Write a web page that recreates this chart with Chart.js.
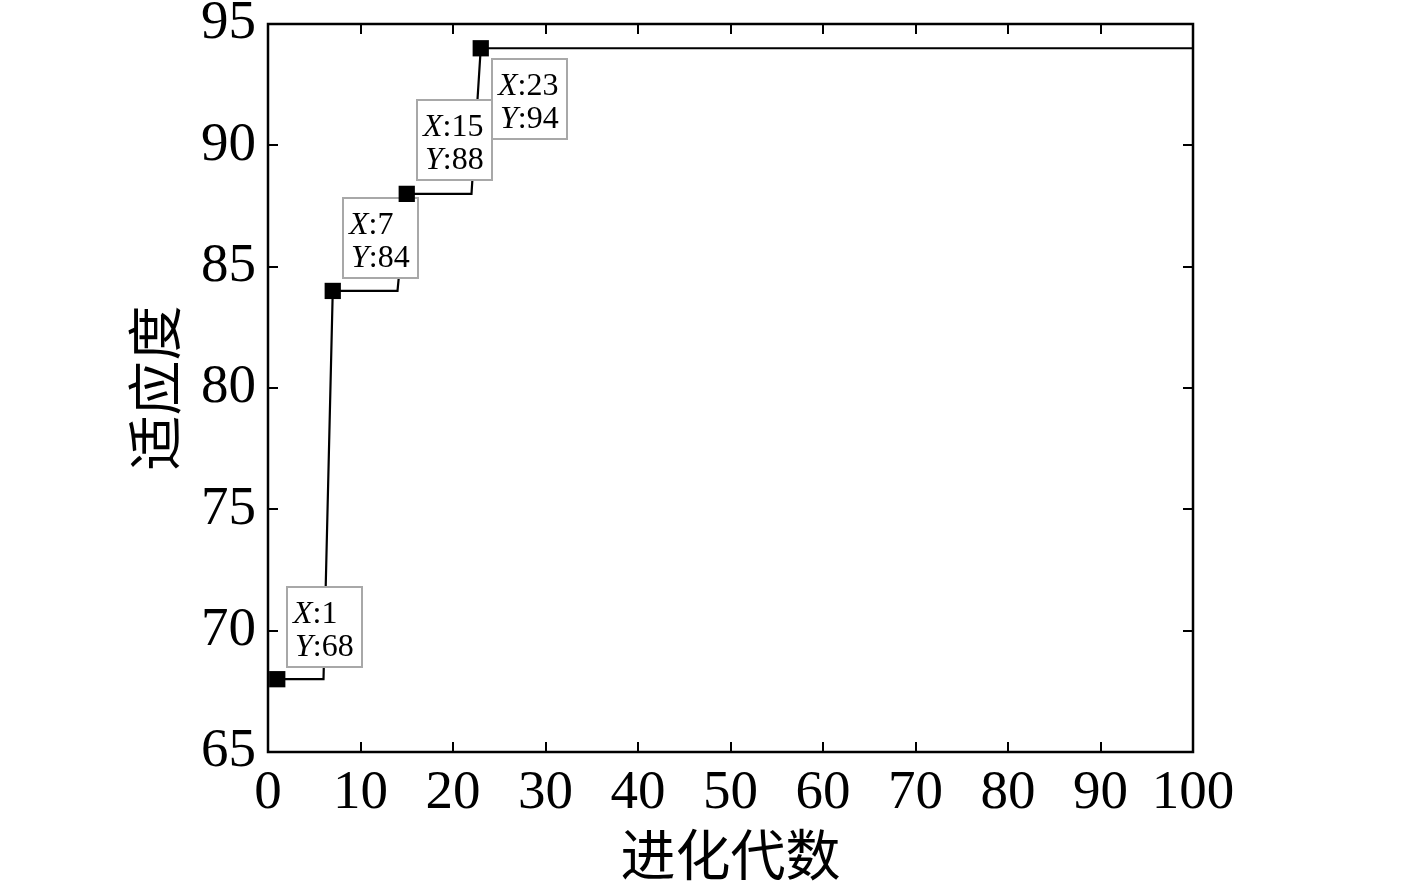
<!DOCTYPE html>
<html>
<head>
<meta charset="utf-8">
<script src="https://cdn.jsdelivr.net/npm/chart.js@4.4.1/dist/chart.umd.min.js"></script>
<style>
  html, body { margin: 0; padding: 0; background: #ffffff; }
  #wrap { width: 1417px; height: 884px; position: relative; }
</style>
</head>
<body>
<div id="wrap"><canvas id="c" width="1417" height="884"></canvas></div>
<script>
// ---- data ----
const generations = [1, 6, 7, 14, 15, 22, 23, 100];
const fitness     = [68, 68, 84, 84, 88, 88, 94, 94];
const tipX = [1, 7, 15, 23];
const tipY = [68, 84, 88, 94];
const xTicks = [0, 10, 20, 30, 40, 50, 60, 70, 80, 90, 100];
const yTicks = [65, 70, 75, 80, 85, 90, 95];
const xTitle = '进化代数';
const yTitle = '适应度';

const serif = "'Liberation Serif', 'DejaVu Serif', serif";
const cjk = "'Noto Sans CJK SC', 'Noto Sans CJK JP', sans-serif";

const lineData = generations.map((g, i) => ({ x: g, y: fitness[i] }));
const tipData = tipX.map((g, i) => ({ x: g, y: tipY[i] }));

// box placement relative to each data-tip point: [dx, dy]
const tipOffsets = [[10, -92], [10, -93], [10, -94], [11, 11]];
const tipFont = 32;

function drawTips(chart) {
  const ctx = chart.ctx;
  const meta = chart.getDatasetMeta(1);
  ctx.save();
  meta.data.forEach((pt, i) => {
    const off = tipOffsets[i];
    const bx = Math.round(pt.x + off[0]);
    const by = Math.round(pt.y + off[1]);
    const lines = [['X', ':' + tipX[i]], ['Y', ':' + tipY[i]]];
    let maxW = 0;
    lines.forEach((l, k) => {
      ctx.font = 'italic ' + tipFont + 'px ' + serif;
      const w1 = ctx.measureText(l[0]).width;
      ctx.font = tipFont + 'px ' + serif;
      const w2 = ctx.measureText(l[1]).width;
      maxW = Math.max(maxW, w1 + w2 + (k === 1 ? 2 : 0));
    });
    const bw = Math.round(maxW + 14);
    const bh = 80;
    ctx.fillStyle = '#ffffff';
    ctx.fillRect(bx, by, bw, bh);
    ctx.strokeStyle = '#a8a8a8';
    ctx.lineWidth = 2;
    ctx.strokeRect(bx, by, bw, bh);
    ctx.fillStyle = '#000000';
    ctx.textBaseline = 'alphabetic';
    ctx.textAlign = 'left';
    lines.forEach((l, k) => {
      const ty = by + (k === 0 ? 36 : 69);
      let tx = bx + 6 + (k === 1 ? 2 : 0);
      ctx.font = 'italic ' + tipFont + 'px ' + serif;
      ctx.fillText(l[0], tx, ty);
      tx += ctx.measureText(l[0]).width;
      ctx.font = tipFont + 'px ' + serif;
      ctx.fillText(l[1], tx, ty);
    });
  });
  ctx.restore();
}

const framePlugin = {
  id: 'frameTicks',
  afterDatasetDraw(chart, args) {
    if (args.index === 0) drawTips(chart);
  },
  afterDraw(chart) {
    const ctx = chart.ctx;
    const a = chart.chartArea;
    const xs = chart.scales.x, ys = chart.scales.y;
    ctx.save();
    ctx.strokeStyle = '#000000';
    ctx.lineWidth = 2;
    const tl = 10;
    ctx.beginPath();
    xTicks.forEach(v => {
      const px = Math.round(xs.getPixelForValue(v));
      ctx.moveTo(px, a.bottom); ctx.lineTo(px, a.bottom - tl);
      ctx.moveTo(px, a.top); ctx.lineTo(px, a.top + tl);
    });
    yTicks.forEach(v => {
      const py = Math.round(ys.getPixelForValue(v));
      ctx.moveTo(a.left, py); ctx.lineTo(a.left + tl, py);
      ctx.moveTo(a.right, py); ctx.lineTo(a.right - tl, py);
    });
    ctx.stroke();
    ctx.lineWidth = 2.5;
    ctx.strokeRect(a.left, a.top, a.right - a.left, a.bottom - a.top);
    ctx.restore();
  }
};

new Chart(document.getElementById('c'), {
  type: 'scatter',
  data: {
    datasets: [
      {
        data: lineData,
        showLine: true,
        borderColor: '#000000',
        borderWidth: 2.2,
        pointRadius: 0,
        tension: 0,
        clip: false,
        order: 2
      },
      {
        data: tipData,
        showLine: false,
        pointStyle: 'rect',
        pointRadius: 11.5,
        backgroundColor: '#000000',
        borderColor: '#000000',
        borderWidth: 0,
        clip: false,
        order: 1
      }
    ]
  },
  options: {
    responsive: false,
    animation: false,
    devicePixelRatio: 1,
    layout: { padding: { left: 0, top: 24, right: 224, bottom: 0 } },
    plugins: { legend: { display: false }, tooltip: { enabled: false } },
    scales: {
      x: {
        type: 'linear',
        min: 0, max: 100,
        afterFit(s) { s.height = 132; s.paddingLeft = 0; s.paddingRight = 0; },
        afterBuildTicks(s) { s.ticks = xTicks.map(v => ({ value: v })); },
        grid: { display: false, drawTicks: false },
        border: { display: false },
        ticks: {
          color: '#000000',
          font: { family: serif, size: 55 },
          padding: 9,
          maxRotation: 0,
          autoSkip: false
        },
        title: {
          display: true,
          text: xTitle,
          color: '#000000',
          font: { family: cjk, size: 55, lineHeight: 1 },
          padding: { top: 0, bottom: 2 }
        }
      },
      y: {
        type: 'linear',
        min: 65, max: 95,
        afterFit(s) { s.width = 268; s.paddingTop = 0; s.paddingBottom = 0; },
        afterBuildTicks(s) { s.ticks = yTicks.map(v => ({ value: v })); },
        grid: { display: false, drawTicks: false },
        border: { display: false },
        ticks: {
          color: '#000000',
          font: { family: serif, size: 55 },
          padding: 12,
          autoSkip: false
        },
        title: {
          display: true,
          text: yTitle,
          color: '#000000',
          font: { family: cjk, size: 55, lineHeight: 1 },
          padding: { top: 127, bottom: 0 }
        }
      }
    }
  },
  plugins: [framePlugin]
});
</script>
</body>
</html>
